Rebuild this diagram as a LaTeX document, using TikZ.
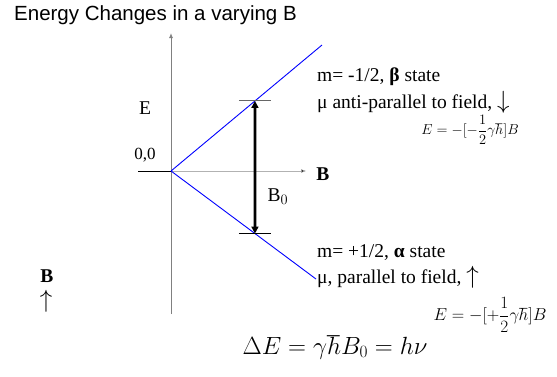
\documentclass[tikz,border=0pt]{standalone}
\usepackage{amsmath}
\usepackage{fontspec}
\setmainfont{Liberation Serif}
\newfontfamily\titlefont{Liberation Sans}
\usetikzlibrary{arrows.meta,calc}
\newcommand{\bigarr}[1]{{\fontsize{24}{22}\selectfont$#1$}}
\begin{document}
\begin{tikzpicture}[x=1pt,y=-1pt,
  axis/.style={draw=black!50,line width=0.9pt},
  level/.style={draw=blue,line width=0.9pt},
  tickmark/.style={line width=1pt},
  lbl/.style={inner sep=0pt,font=\fontsize{19.5}{22}\selectfont},
  eq/.style={inner sep=0pt,font=\fontsize{14}{16}\selectfont},
  textline/.style={lbl,anchor=west}]
\useasboundingbox (0,0) rectangle (557,376);
% coordinates
\coordinate (O) at (171,171);
\coordinate (yTop) at (171,33);
\coordinate (yBot) at (171,314);
\coordinate (xLeft) at (138,171);
\coordinate (xRight) at (306,171);
\coordinate (upEnd) at (322,45);
\coordinate (lowEnd) at (316,279);
\coordinate (tU) at ($(O)!0.556!(upEnd)$);
\coordinate (tL) at ($(O)!0.579!(lowEnd)$);
% axes
\draw[axis,-{Latex[length=5pt,width=4pt]}] (yBot) -- (yTop);
\draw[line width=1pt] (xLeft) -- (O);
\draw[draw=black!30,line width=0.5pt,-{Latex[length=5pt,width=4pt,fill=black]}] (O) -- (xRight);
% energy levels
\draw[level] (O) -- (upEnd);
\draw[level] (O) -- (lowEnd);
% ticks
\draw[tickmark,draw=black!60] ($(tU)+(-16,0)$) -- ($(tU)+(16,0)$);
\draw[tickmark] ($(tL)+(-16,0)$) -- ($(tL)+(16,0)$);
% transition arrow
\draw[line width=2.6pt,{Triangle[length=7pt,width=7pt]}-{Triangle[length=7pt,width=7pt]}] (tL) -- (tU);
% labels
\node[inner sep=0pt,font=\titlefont\fontsize{20.5}{24}\selectfont,anchor=west] (title) at (14,15) {Energy Changes in a varying B};
\node[lbl] (E) at (145,108) {E};
\node[inner sep=0pt,font=\fontsize{17}{20}\selectfont] (zero) at (145,155) {0,0};
\node[lbl,font=\fontsize{19.5}{22}\selectfont\bfseries] (Bx) at (323,174) {B};
\node[lbl] (B0) at (278,197) {B$_0$};
\node[textline] (mA) at (317,77) {m= -1/2, \textbf{β} state};
\node[textline] (muA) at (317,102) {μ anti-parallel to field, \bigarr{\downarrow}};
\node[eq] (eqA) at (470,130) {$\displaystyle E=-[-\frac{1}{2}\gamma\hbar]B$};
\node[textline] (mB) at (317,253) {m= +1/2, \textbf{α} state};
\node[textline] (muB) at (317,277) {μ, parallel to field, \bigarr{\uparrow}};
\node[eq,font=\fontsize{16}{18}\selectfont] (eqB) at (490,315) {$\displaystyle E=-[+\frac{1}{2}\gamma\hbar]B$};
\node[lbl,font=\fontsize{19.5}{22}\selectfont\bfseries] (Bl) at (47,276) {B};
\node[lbl,anchor=north] (arr) at (46,290) {\bigarr{\uparrow}};
\node[inner sep=0pt,font=\fontsize{25}{28}\selectfont] (dE) at (335,347) {$\Delta E=\gamma\hbar B_0=h\nu$};
\end{tikzpicture}
\end{document}
